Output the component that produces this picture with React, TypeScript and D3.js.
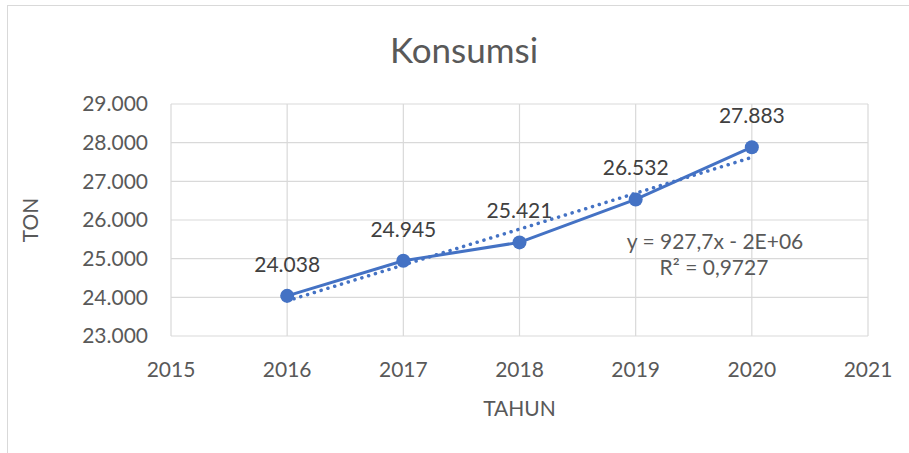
import React from 'react';
import * as d3 from 'd3';

const years = [2016, 2017, 2018, 2019, 2020];
const konsumsi = [24038, 24945, 25421, 26532, 27883];
const yTicks = [23000, 24000, 25000, 26000, 27000, 28000, 29000];
const xTicks = [2015, 2016, 2017, 2018, 2019, 2020, 2021];

const W = 909;
const H = 453;
const plot = { left: 171, right: 868, top: 104, bottom: 336 };
const blue = '#4472C4';
const grey = '#595959';
const grid = '#d9d9d9';
const font = 'Lato, Calibri, "Noto Sans", sans-serif';
const fs = 21;

const fmt = (v: number) => d3.format(',')(v).replace(/,/g, '.');

// linear trendline, least squares
const mx = d3.mean(years)!;
const my = d3.mean(konsumsi)!;
const slope =
  d3.sum(years.map((x, i) => (x - mx) * (konsumsi[i] - my))) /
  d3.sum(years.map((x) => (x - mx) ** 2));
const icpt = my - slope * mx;

const App: React.FC = () => {
  const x = d3.scaleLinear().domain([2015, 2021]).range([plot.left, plot.right]);
  const y = d3.scaleLinear().domain([23000, 29000]).range([plot.bottom, plot.top]);

  const line = d3
    .line<number>()
    .x((d, i) => x(years[i]))
    .y((d) => y(d));

  const trend = d3
    .line<number>()
    .x((d) => x(d))
    .y((d) => y(slope * d + icpt));

  return (
    <svg
      width={W}
      height={H}
      style={{ position: 'absolute', left: 0, top: 0, background: '#fff' }}
      fontFamily={font}
    >
      <rect x={7.5} y={5.5} width={W} height={H} fill="#fff" stroke={grid} />
      <text x={464} y={63} textAnchor="middle" fontSize={35} fill={grey}>
        Konsumsi
      </text>

      {yTicks.map((t) => (
        <g key={'y' + t}>
          <line x1={plot.left} x2={plot.right} y1={y(t)} y2={y(t)} stroke={grid} strokeWidth={1.2} />
          <text x={148} y={y(t)} dy="0.35em" textAnchor="end" fontSize={fs} fill={grey}>
            {fmt(t)}
          </text>
        </g>
      ))}
      {xTicks.map((t) => (
        <g key={'x' + t}>
          <line x1={x(t)} x2={x(t)} y1={plot.top} y2={plot.bottom} stroke={grid} strokeWidth={1.2} />
          <text x={x(t)} y={377} textAnchor="middle" fontSize={fs} fill={grey}>
            {t}
          </text>
        </g>
      ))}

      <text
        transform={`translate(38,${(plot.top + plot.bottom) / 2}) rotate(-90)`}
        textAnchor="middle"
        fontSize={fs}
        fill={grey}
      >
        TON
      </text>
      <text x={(plot.left + plot.right) / 2} y={416} textAnchor="middle" fontSize={fs} fill={grey}>
        TAHUN
      </text>

      <path d={line(konsumsi) || ''} fill="none" stroke={blue} strokeWidth={3} strokeLinejoin="round" />
      <path
        d={trend([years[0], years[years.length - 1]]) || ''}
        fill="none"
        stroke={blue}
        strokeWidth={3.5}
        strokeDasharray="0.1 7"
        strokeLinecap="round"
      />
      {konsumsi.map((v, i) => (
        <g key={'p' + i}>
          <circle cx={x(years[i])} cy={y(v)} r={7} fill={blue} />
          <text x={x(years[i])} y={y(v) - 24} textAnchor="middle" fontSize={fs} fill="#404040">
            {fmt(v)}
          </text>
        </g>
      ))}

      <text x={715} y={249} textAnchor="middle" fontSize={fs} fill={grey}>
        y = 927,7x - 2E+06
      </text>
      <text x={714} y={275} textAnchor="middle" fontSize={fs} fill={grey}>
        R² = 0,9727
      </text>
    </svg>
  );
};

export default App;
